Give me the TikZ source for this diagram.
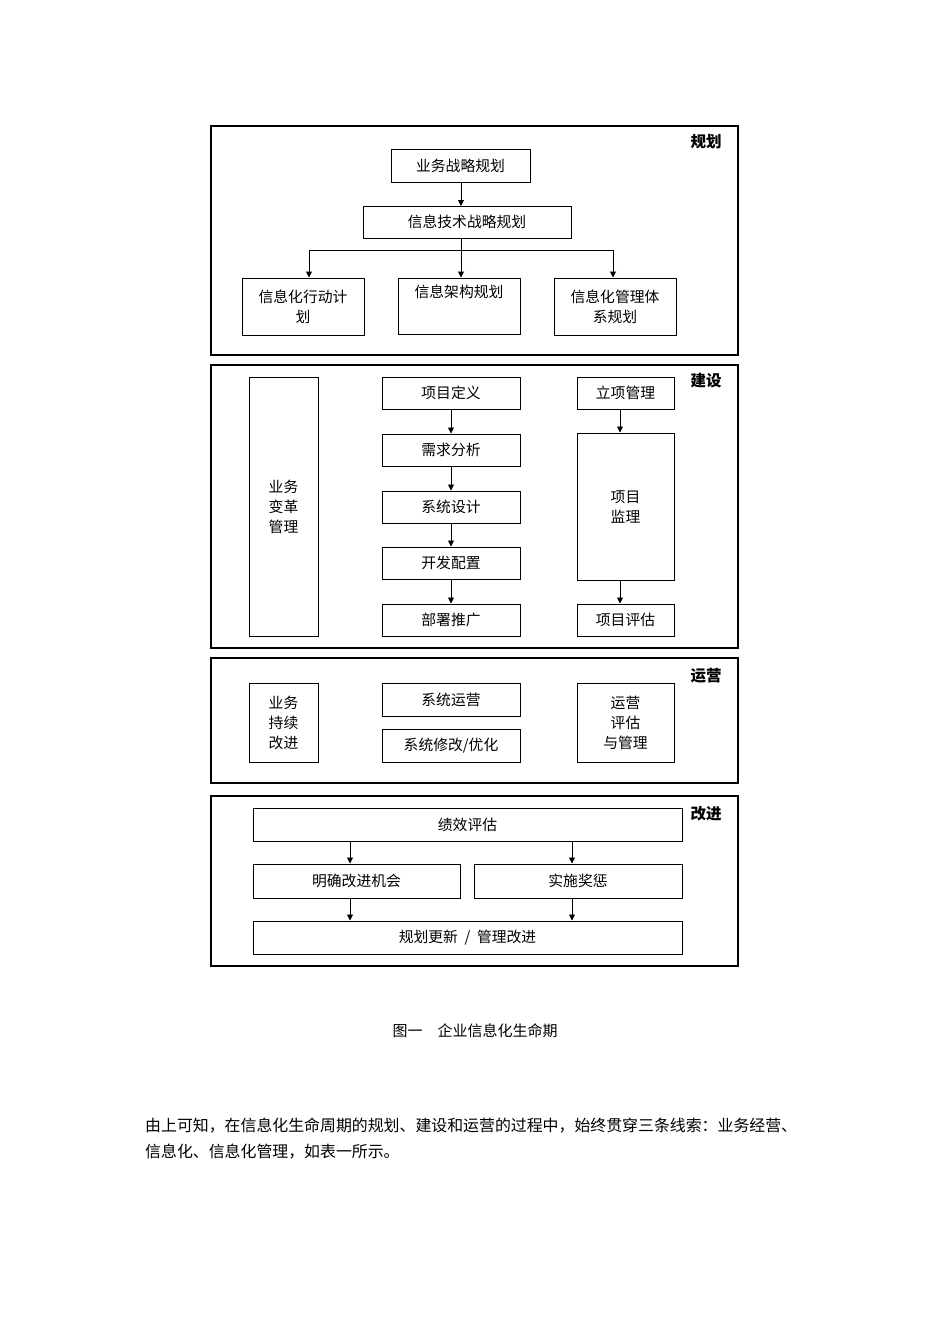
\documentclass[tikz,border=0pt]{standalone}
\usepackage{fontspec}
\setmainfont{Noto Sans CJK SC}
\usetikzlibrary{arrows.meta}
\begin{document}
\begin{tikzpicture}[x=1pt,y=-1pt,
  sec/.style={draw,line width=1.2pt},
  box/.style={draw,line width=1pt,inner sep=0pt,font=\fontsize{14.8}{20}\selectfont,align=center},
  ttl/.style={font=\fontsize{15.5}{18}\selectfont\bfseries},
  txt/.style={font=\fontsize{14.8}{20}\selectfont,align=center},
  arr/.style={line width=0.9pt,-{Triangle[length=6pt,width=6pt]}}]
\useasboundingbox (0,0) rectangle (950,1344);
% sections
\draw[sec] (211,126) rectangle (738,355);
\draw[sec] (211,365) rectangle (738,648);
\draw[sec] (211,658) rectangle (738,783);
\draw[sec] (211,796) rectangle (738,966);
\node[ttl] at (706,142) {规划};
\node[ttl] at (706,381) {建设};
\node[ttl] at (706,676) {运营};
\node[ttl] at (706,814) {改进};
% 规划
\node[box,minimum width=139,minimum height=33] (a1) at (460.5,165.5) {业务战略规划};
\node[box,minimum width=208,minimum height=32] (a2) at (467,222) {信息技术战略规划};
\node[box,minimum width=122,minimum height=57] (b1) at (303,306.5) {};
\node[box,minimum width=122,minimum height=56] (b2) at (459,306) {};
\node[box,minimum width=122,minimum height=57] (b3) at (615,306.5) {};
\node[txt] at (303,306.5) {信息化行动计\\划};
\node[txt,anchor=north] at (459,281) {信息架构规划};
\node[txt] at (615,306.5) {信息化管理体\\系规划};
\draw[arr] (a1.south -| 461,0) -- (461,206);
\coordinate (j) at (461,250);
\draw[line width=0.9pt] (461,238) -- (j);
\draw[line width=0.9pt] (309,250) -- (613,250);
\draw[arr] (j) -- (b2.north -| j);
\draw[arr] (309,250) -- (b1.north -| 309,0);
\draw[arr] (613,250) -- (b3.north -| 613,0);
% 建设
\node[box,minimum width=69,minimum height=259] (c0) at (283.5,506.5) {业务\\变革\\管理};
\node[box,minimum width=138,minimum height=32] (c1) at (451,393) {项目定义};
\node[box,minimum width=138,minimum height=32] (c2) at (451,450) {需求分析};
\node[box,minimum width=138,minimum height=32] (c3) at (451,507) {系统设计};
\node[box,minimum width=138,minimum height=32] (c4) at (451,563) {开发配置};
\node[box,minimum width=138,minimum height=32] (c5) at (451,620) {部署推广};
\draw[arr] (c1) -- (c2); \draw[arr] (c2) -- (c3); \draw[arr] (c3) -- (c4); \draw[arr] (c4) -- (c5);
\node[box,minimum width=97,minimum height=32] (d1) at (625.5,393) {立项管理};
\node[box,minimum width=97,minimum height=147] (d2) at (625.5,506.5) {项目\\监理};
\node[box,minimum width=97,minimum height=32] (d3) at (625.5,620) {项目评估};
\draw[arr] (d1.south -| 620,0) -- (d2.north -| 620,0);
\draw[arr] (d2.south -| 620,0) -- (d3.north -| 620,0);
% 运营
\node[box,minimum width=69,minimum height=79] (e0) at (283.5,722.5) {业务\\持续\\改进};
\node[box,minimum width=138,minimum height=33] (e1) at (451,699.5) {系统运营};
\node[box,minimum width=138,minimum height=33] (e2) at (451,745.5) {系统修改/优化};
\node[box,minimum width=97,minimum height=79] (e3) at (625.5,722.5) {运营\\评估\\与管理};
% 改进
\node[box,minimum width=429,minimum height=33] (f1) at (467.5,824.5) {绩效评估};
\node[box,minimum width=207,minimum height=34] (f2) at (356.5,881) {明确改进机会};
\node[box,minimum width=208,minimum height=34] (f3) at (578,881) {实施奖惩};
\node[box,minimum width=429,minimum height=33] (f4) at (467.5,937.5) {规划更新 ~/~ 管理改进};
\draw[arr] (f1.south -| 350,0) -- (f2.north -| 350,0);
\draw[arr] (f1.south -| 572,0) -- (f3.north -| 572,0);
\draw[arr] (f2.south -| 350,0) -- (f4.north -| 350,0);
\draw[arr] (f3.south -| 572,0) -- (f4.north -| 572,0);
% caption and text
\node[font=\fontsize{15}{18}\selectfont] (cap) at (475,1031) {图一\quad 企业信息化生命期};
\node[anchor=west,font=\fontsize{15.9}{20}\selectfont,inner sep=0pt] (p1) at (145,1126) {由上可知，在信息化生命周期的规划、建设和运营的过程中，始终贯穿三条线索：业务经营、};
\node[anchor=west,font=\fontsize{15.9}{20}\selectfont,inner sep=0pt] (p2) at (145,1152) {信息化、信息化管理，如表一所示。};
\end{tikzpicture}
\end{document}
